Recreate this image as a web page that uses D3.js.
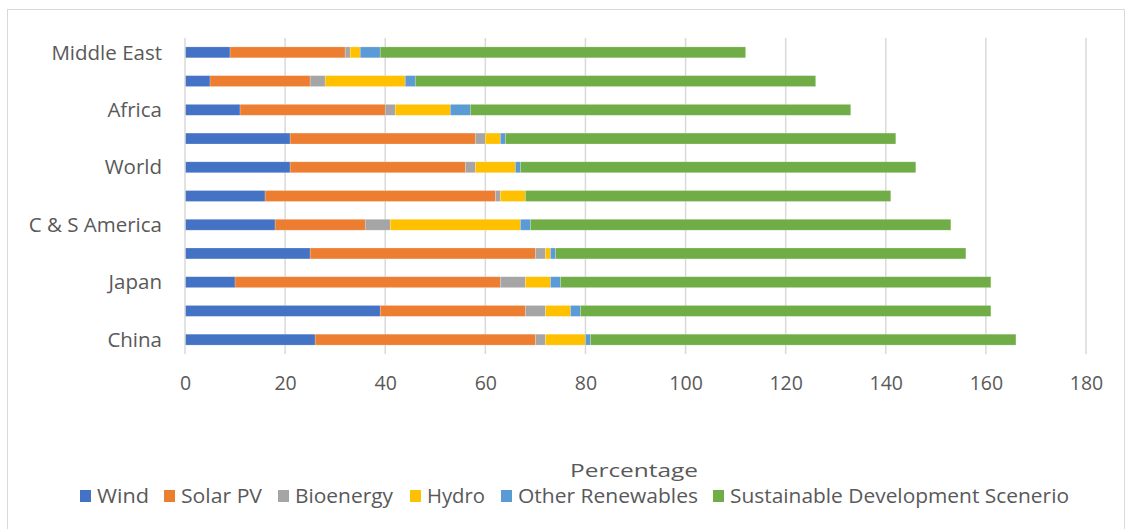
<!DOCTYPE html>
<html>
<head>
<meta charset="utf-8">
<script src="https://cdn.jsdelivr.net/npm/d3@7"></script>
<style>
  html, body { margin: 0; padding: 0; background: #fff; }
  svg { display: block; font-family: "Open Sans", "Noto Sans", sans-serif; }
</style>
</head>
<body>
<svg id="chart" width="1131" height="529"></svg>
<script>
// Regions, listed bottom to top; only every other name is shown on the axis
const regions = ["China", "European Union", "Japan", "United States", "C & S America",
                 "India", "World", "Southeast Asia", "Africa", "Eurasia", "Middle East"];
const shownRegions = ["China", "Japan", "C & S America", "World", "Africa", "Middle East"];

const seriesNames = ["Wind", "Solar PV", "Bioenergy", "Hydro", "Other Renewables",
                     "Sustainable Development Scenerio"];
const seriesColors = ["#4472C4", "#ED7D31", "#A5A5A5", "#FFC000", "#5B9BD5", "#70AD47"];

// Percentages per region (same order as regions)
const wind      = [26, 39, 10, 25, 18, 16, 21, 21, 11, 5, 9];
const solarPV   = [44, 29, 53, 45, 18, 46, 35, 37, 29, 20, 23];
const bioenergy = [2, 4, 5, 2, 5, 1, 2, 2, 2, 3, 1];
const hydro     = [8, 5, 5, 1, 26, 5, 8, 3, 11, 16, 2];
const otherRen  = [1, 2, 2, 1, 2, 0, 1, 1, 4, 2, 4];
const sds       = [85, 82, 86, 82, 84, 73, 79, 78, 76, 80, 73];

const xTicks = [0, 20, 40, 60, 80, 100, 120, 140, 160, 180];
const axisTitle = "Percentage";

const seriesValues = [wind, solarPV, bioenergy, hydro, otherRen, sds];
const rows = regions.map((r, i) => {
  const o = { region: r };
  seriesNames.forEach((s, k) => { o[s] = seriesValues[k][i]; });
  return o;
});

const svg = d3.select("#chart");
const textColor = "#595959";

// chart frame
svg.append("rect")
  .attr("x", 7.5).attr("y", 9.5).attr("width", 1117).attr("height", 530)
  .attr("fill", "none").attr("stroke", "#d9d9d9").attr("stroke-width", 1);

const x = d3.scaleLinear().domain([0, 180]).range([185, 1086]);
const y = d3.scaleBand()
  .domain(regions.slice().reverse())
  .range([38, 354])
  .paddingInner(0.62)
  .paddingOuter(0.31);

// vertical gridlines
svg.append("g")
  .selectAll("line")
  .data(xTicks.filter(t => t > 0))
  .join("line")
  .attr("x1", d => x(d)).attr("x2", d => x(d))
  .attr("y1", 38).attr("y2", 354)
  .attr("stroke", "#d9d9d9").attr("stroke-width", 1.5);

// stacked bars
const stack = d3.stack().keys(seriesNames)(rows);
svg.append("g")
  .selectAll("g")
  .data(stack)
  .join("g")
  .attr("fill", (d, i) => seriesColors[i])
  .selectAll("rect")
  .data(d => d)
  .join("rect")
  .attr("x", d => x(d[0]))
  .attr("width", d => Math.max(0, x(d[1]) - x(d[0])))
  .attr("y", d => y(d.data.region))
  .attr("height", y.bandwidth())
  .attr("stroke", "#ffffff")
  .attr("stroke-opacity", 0.35)
  .attr("stroke-width", 0.6);

// category axis line
svg.append("line")
  .attr("x1", x(0)).attr("x2", x(0))
  .attr("y1", 38).attr("y2", 354)
  .attr("stroke", "#d9d9d9").attr("stroke-width", 1.5);

// category labels
svg.append("g")
  .selectAll("text")
  .data(regions.filter(r => shownRegions.includes(r)))
  .join("text")
  .attr("x", 162)
  .attr("y", d => y(d) + y.bandwidth() / 2)
  .attr("dy", "0.35em")
  .attr("text-anchor", "end")
  .attr("fill", textColor)
  .attr("font-size", 20.5)
  .text(d => d);

// value axis tick labels
const xAxis = d3.axisBottom(x).tickValues(xTicks).tickSize(0).tickPadding(0);
const gx = svg.append("g").attr("transform", "translate(0,376)").call(xAxis);
gx.select(".domain").remove();
gx.selectAll("text")
  .attr("fill", textColor)
  .attr("font-size", 19.5)
  .attr("font-family", "'Open Sans', 'Noto Sans', sans-serif");

// axis title
svg.append("text")
  .attr("x", 634).attr("y", 477)
  .attr("text-anchor", "middle")
  .attr("fill", textColor)
  .attr("font-size", 19)
  .attr("textLength", 128)
  .attr("lengthAdjust", "spacingAndGlyphs")
  .text(axisTitle);

// legend
const legendX = [80, 164, 278, 410, 501, 713];
const legendW = [52, 81, 98, 58, 180, 339];
const lg = svg.append("g")
  .selectAll("g")
  .data(seriesNames)
  .join("g")
  .attr("transform", (d, i) => `translate(${legendX[i]},496)`);
lg.append("rect")
  .attr("x", 0).attr("y", -6).attr("width", 11).attr("height", 12)
  .attr("fill", (d, i) => seriesColors[i]);
lg.append("text")
  .attr("x", 17).attr("y", 0).attr("dy", "0.35em")
  .attr("fill", textColor)
  .attr("font-size", 20)
  .attr("textLength", (d, i) => legendW[i])
  .attr("lengthAdjust", "spacingAndGlyphs")
  .text(d => d);
</script>
</body>
</html>
